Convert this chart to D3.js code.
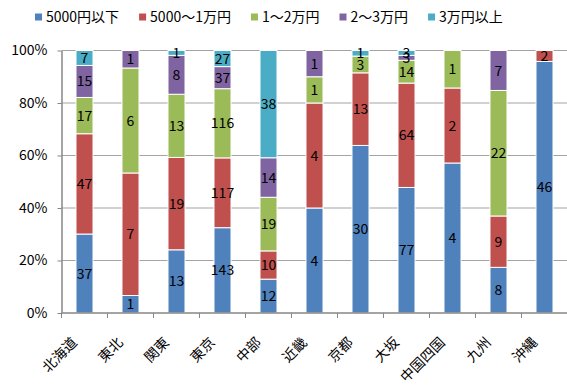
<!DOCTYPE html>
<html>
<head>
<meta charset="utf-8">
<script src="https://cdn.jsdelivr.net/npm/d3@7"></script>
<style>
  body { margin: 0; background: #fff; }
  svg { display: block; font-family: "Noto Sans CJK JP", "Noto Sans", sans-serif; }
</style>
</head>
<body>
<svg id="chart"></svg>
<script>
// categories and series
const categories = ["北海道", "東北", "関東", "東京", "中部", "近畿", "京都", "大坂", "中国四国", "九州", "沖縄"];
const seriesNames = ["5000円以下", "5000～1万円", "1～2万円", "2～3万円", "3万円以上"];
const under5000 = [37, 1, 13, 143, 12, 4, 30, 77, 4, 8, 46];
const from5000To1man = [47, 7, 19, 117, 10, 4, 13, 64, 2, 9, 2];
const from1To2man = [17, 6, 13, 116, 19, 1, 3, 14, 1, 22, 0];
const from2To3man = [15, 1, 8, 37, 14, 1, 0, 3, 0, 7, 0];
const over3man = [7, 0, 1, 27, 38, 0, 1, 3, 0, 0, 0];
const yTicks = [0, 0.2, 0.4, 0.6, 0.8, 1];

const colors = ["#4F81BD", "#C0504D", "#9BBB59", "#8064A2", "#4BACC6"];
const seriesValues = [under5000, from5000To1man, from1To2man, from2To3man, over3man];

const table = categories.map((c, i) => {
    const row = { region: c };
    seriesNames.forEach((s, j) => row[s] = seriesValues[j][i]);
    return row;
});

const width = 567;
const height = 385;
const marginTop = 50.5;
const marginBottom = 72;
const marginLeft = 61.5;
const marginRight = -0.5;

const x = d3.scaleBand(categories, [marginLeft, width - marginRight])
    .paddingInner(0.63)
    .paddingOuter(0.315);
const y = d3.scaleLinear([0, 1], [height - marginBottom, marginTop]);

const stack = d3.stack().keys(seriesNames).offset(d3.stackOffsetExpand);
const series = stack(table);

const svg = d3.select("#chart")
    .attr("width", width)
    .attr("height", height)
    .attr("viewBox", [0, 0, width, height]);

// grid lines
svg.append("g")
    .selectAll("line")
    .data(yTicks.slice(1))
    .join("line")
    .attr("x1", marginLeft)
    .attr("x2", width)
    .attr("y1", d => y(d))
    .attr("y2", d => y(d))
    .attr("stroke", "#a3a3a3")
    .attr("stroke-width", 1);

// bars
const groups = svg.append("g")
    .selectAll("g")
    .data(series)
    .join("g")
    .attr("fill", (d, i) => colors[i]);

groups.selectAll("rect")
    .data(d => d.filter(p => p.data[d.key] > 0))
    .join("rect")
    .attr("x", d => x(d.data.region))
    .attr("y", d => y(d[1]))
    .attr("height", d => y(d[0]) - y(d[1]))
    .attr("width", x.bandwidth())
    .attr("stroke", "#fff")
    .attr("stroke-width", 1);

// value labels
svg.append("g")
    .selectAll("g")
    .data(series)
    .join("g")
    .selectAll("text")
    .data(d => d.filter(p => p.data[d.key] > 0).map(p => ({ p, v: p.data[d.key] })))
    .join("text")
    .attr("x", d => x(d.p.data.region) + x.bandwidth() / 2)
    .attr("y", d => (y(d.p[0]) + y(d.p[1])) / 2)
    .attr("dy", "0.36em")
    .attr("text-anchor", "middle")
    .attr("font-size", 14)
    .attr("fill", "#000")
    .text(d => d.v);

// y axis
svg.append("g")
    .attr("transform", `translate(${marginLeft},0)`)
    .call(d3.axisLeft(y).tickValues(yTicks).tickFormat(d3.format(".0%")).tickSizeInner(4).tickSizeOuter(0).tickPadding(10))
    .call(g => g.select(".domain").attr("stroke", "#868686").attr("stroke-width", 1.5))
    .call(g => g.selectAll(".tick line").attr("stroke", "#868686"))
    .call(g => g.selectAll(".tick text").attr("font-size", 14).attr("fill", "#000").attr("font-family", "\"Noto Sans CJK JP\", sans-serif"));

// x axis
const xAxisG = svg.append("g")
    .attr("transform", `translate(0,${height - marginBottom})`);

xAxisG.append("line")
    .attr("x1", marginLeft)
    .attr("x2", width)
    .attr("stroke", "#868686")
    .attr("stroke-width", 1.5);

xAxisG.selectAll("line.tick")
    .data(categories)
    .join("line")
    .attr("class", "tick")
    .attr("x1", d => x(d) - x.step() * x.paddingInner() / 2)
    .attr("x2", d => x(d) - x.step() * x.paddingInner() / 2)
    .attr("y1", 0)
    .attr("y2", 5)
    .attr("stroke", "#868686");

xAxisG.selectAll("text")
    .data(categories)
    .join("text")
    .attr("transform", d => `translate(${x(d) + x.bandwidth() / 2 - 10},${27}) rotate(-45)`)
    .attr("text-anchor", "end")
    .attr("dy", "0.35em")
    .attr("font-size", 14)
    .attr("fill", "#000")
    .text(d => d);

// legend
const legend = svg.append("g").attr("transform", "translate(35,17)");
let lx = 0;
seriesNames.forEach((name, i) => {
    const item = legend.append("g").attr("transform", `translate(${lx},0)`);
    item.append("rect")
        .attr("x", 0)
        .attr("y", -3.5)
        .attr("width", 7)
        .attr("height", 7)
        .attr("fill", colors[i]);
    const t = item.append("text")
        .attr("x", 11)
        .attr("dy", "0.36em")
        .attr("font-size", 14)
        .attr("fill", "#000")
        .text(name);
    lx += 11 + t.node().getComputedTextLength() + 20;
});
</script>
</body>
</html>
